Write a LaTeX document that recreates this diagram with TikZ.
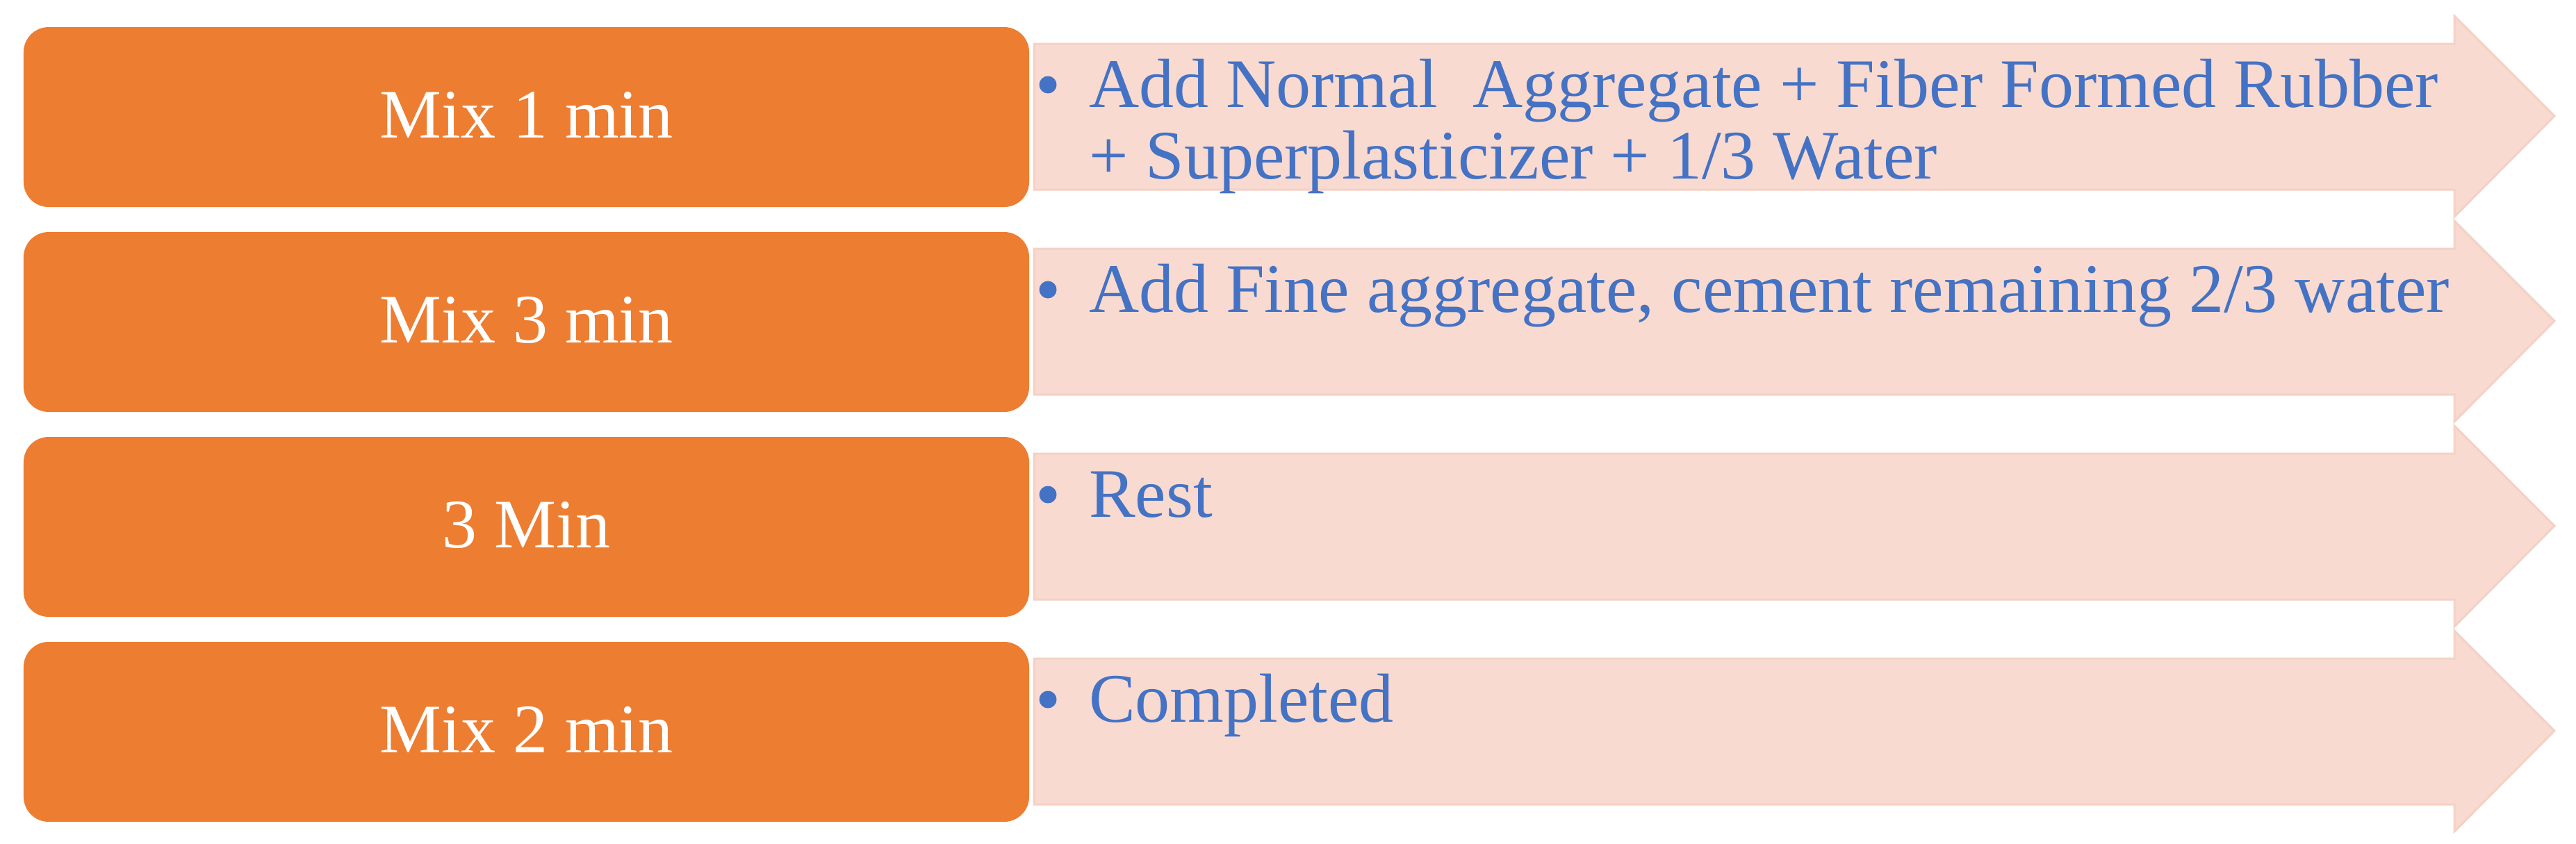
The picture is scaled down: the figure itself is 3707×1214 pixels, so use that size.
\documentclass[tikz,border=0pt]{standalone}
\usepackage{fontspec}
\setmainfont{Liberation Serif}
\definecolor{orng}{HTML}{ED7D31}
\definecolor{pinkfill}{HTML}{F8DAD0}
\definecolor{pinkedge}{HTML}{F5D1C5}
\definecolor{txtblue}{HTML}{4472C4}
\newcommand\procarrow[2]{%
  \path[arrowshape] (1488,{63+#1}) -- (3532,{63+#1}) -- (3532,{23+#1}) -- (3676,{167+#1})
    -- (3532,{312+#1}) -- (3532,{273+#1}) -- (1488,{273+#1}) -- cycle;
  \coordinate (#2) at (1488,{168+#1});}
\begin{document}
\begin{tikzpicture}[x=0.2pt,y=-0.2pt,
  obox/.style={fill=orng, rounded corners=7.2pt, minimum width=289.4pt, minimum height=51.8pt, inner sep=0pt},
  otext/.style={text=white, font=\fontsize{20pt}{24pt}\selectfont, inner sep=0pt, anchor=base},
  arrowshape/.style={fill=pinkfill, draw=pinkedge, line width=0.6pt, line join=miter},
  btext/.style={text=txtblue, font=\fontsize{20pt}{24pt}\selectfont, inner sep=0pt, anchor=base west},
  bdot/.style={circle, fill=txtblue, minimum size=5pt, inner sep=0pt}]
\useasboundingbox (0,0) rectangle (3707,1214);
\fill[white] (0,0) rectangle (3707,1214);

% arrows
\procarrow{0}{r1}
\procarrow{295}{r2}
\procarrow{590}{r3}
\procarrow{885}{r4}

% orange boxes
\node[obox] (b1) at (757.5,168.5) {};
\node[obox] (b2) at (757.5,463.5) {};
\node[obox] (b3) at (757.5,758.5) {};
\node[obox] (b4) at (757.5,1053.5) {};

\node[otext] (t1) at (757.5,198) {Mix 1 min};
\node[otext] (t2) at (757.5,493) {Mix 3 min};
\node[otext] (t3) at (757.5,788) {3 Min};
\node[otext] (t4) at (757.5,1083) {Mix 2 min};

% bullets and texts
\node[bdot] (d1) at (1508,122) {};
\node[btext] (a1) at (1566,154) {Add Normal\ \ Aggregate + Fiber Formed Rubber};
\node[btext] (a1b) at (1566,257) {+ Superplasticizer + 1/3 Water};

\node[bdot] (d2) at (1508,417) {};
\node[btext] (a2) at (1566,449) {Add Fine aggregate, cement remaining 2/3 water};

\node[bdot] (d3) at (1508,712) {};
\node[btext] (a3) at (1566,744) {Rest};

\node[bdot] (d4) at (1508,1007) {};
\node[btext] (a4) at (1566,1039) {Completed};
\end{tikzpicture}
\end{document}
